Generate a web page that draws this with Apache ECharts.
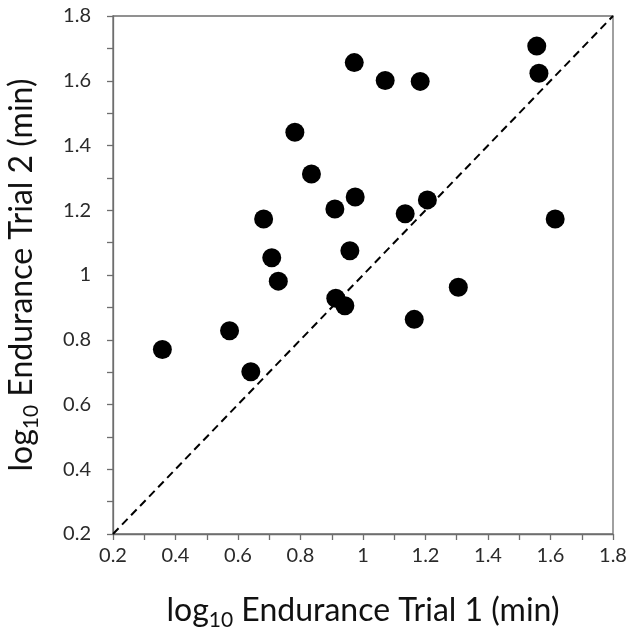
<!DOCTYPE html>
<html>
<head>
<meta charset="utf-8">
<script src="https://cdn.jsdelivr.net/npm/echarts@6/dist/echarts.min.js"></script>
<style>
  html, body { margin: 0; padding: 0; background: #fff; }
  #chart { width: 629px; height: 628px; }
</style>
</head>
<body>
<div id="chart"></div>
<script>
// log10 endurance, trial 1 (x) vs trial 2 (y)
const trial1 = [0.358, 0.573, 0.641, 0.729, 0.708, 0.682, 0.913, 0.942, 0.782, 0.835, 0.910, 0.972,
  1.071, 1.183, 1.556, 1.563, 0.975, 1.135, 1.206, 1.615, 0.958, 1.164, 1.305];
const trial2 = [0.770, 0.828, 0.701, 0.981, 1.053, 1.173, 0.928, 0.905, 1.441, 1.312, 1.204, 1.656,
  1.601, 1.598, 1.707, 1.623, 1.241, 1.189, 1.232, 1.173, 1.075, 0.863, 0.962];
const identityLine = [[0.2, 0.2], [1.8, 1.8]];
const axisMin = 0.2;
const axisMax = 1.8;
const step = 0.2;

const points = trial1.map((x, i) => [x, trial2[i]]);

const chart = echarts.init(document.getElementById('chart'), null, { renderer: 'canvas' });

const FONT = 'Lato';
const lineColor = '#6e6e6e';

function axisCommon() {
  return {
    type: 'value',
    min: axisMin,
    max: axisMax,
    interval: step,
    nameLocation: 'middle',
    axisLine: { show: true, lineStyle: { color: lineColor, width: 1.3 } },
    axisTick: { show: true, inside: false, length: 6, lineStyle: { color: lineColor, width: 1.3 } },
    minorTick: { show: true, splitNumber: 2, length: 6, lineStyle: { color: lineColor, width: 1.3 } },
    splitLine: { show: false },
    axisLabel: {
      color: '#2a2a2a',
      fontFamily: FONT,
      fontSize: 20,
      formatter: v => String(+v.toFixed(1))
    },
    nameTextStyle: {
      color: '#111',
      fontFamily: FONT,
      rich: {
        a: { fontSize: 32, lineHeight: 40, fontFamily: FONT, color: '#111' },
        s: { fontSize: 21, lineHeight: 20, fontFamily: FONT, color: '#111', verticalAlign: 'bottom' }
      }
    }
  };
}

const xAxis = axisCommon();
xAxis.name = '{a|log}{s|10}{a| Endurance Trial 1 (min)}';
xAxis.nameGap = 57;
xAxis.axisLabel.margin = 12;

const yAxis = axisCommon();
yAxis.name = '{a|log}{s|10}{a| Endurance Trial 2 (min)}';
yAxis.nameGap = 71;
yAxis.axisLabel.margin = 22;

const option = {
  backgroundColor: '#fff',
  animation: false,
  grid: {
    left: 113,
    right: 16,
    top: 16,
    bottom: 94,
    outerBoundsMode: 'none',
    show: true,
    borderColor: lineColor,
    borderWidth: 1.3,
    backgroundColor: 'transparent'
  },
  xAxis: xAxis,
  yAxis: yAxis,
  series: [
    {
      type: 'line',
      data: identityLine,
      symbol: 'none',
      silent: true,
      lineStyle: { color: '#000', width: 2, type: [8, 5] },
      z: 1
    },
    {
      type: 'scatter',
      data: points,
      symbol: 'circle',
      symbolSize: 19,
      itemStyle: { color: '#000', opacity: 1 },
      z: 3
    }
  ]
};

chart.setOption(option);
</script>
</body>
</html>
